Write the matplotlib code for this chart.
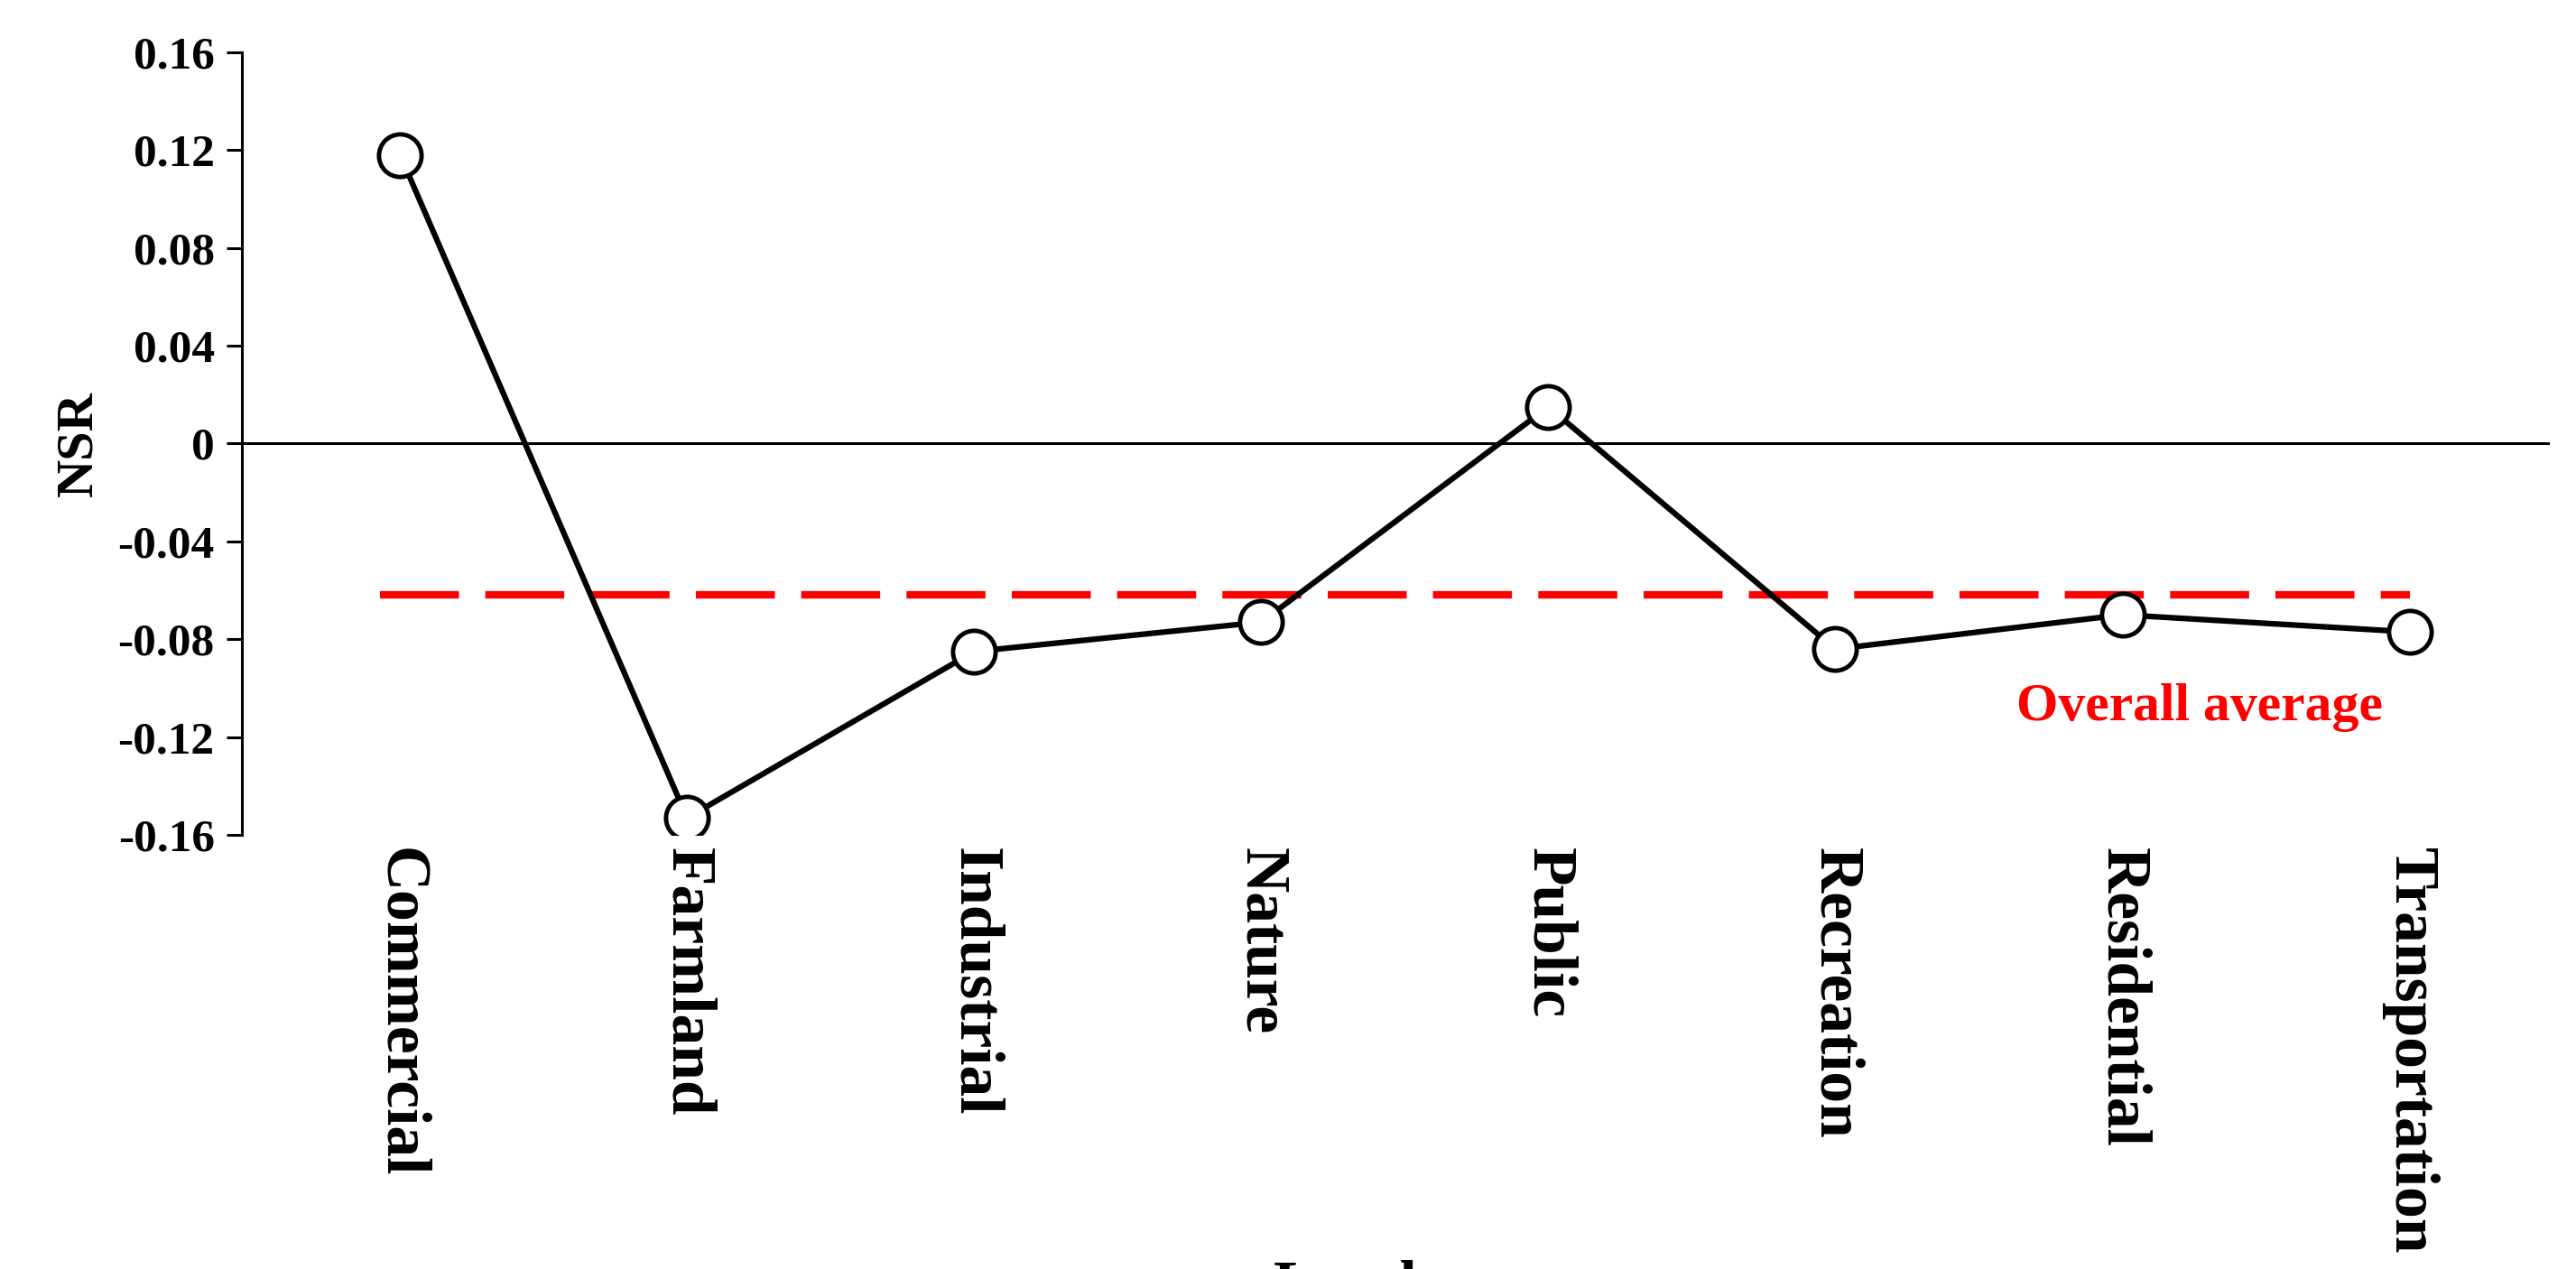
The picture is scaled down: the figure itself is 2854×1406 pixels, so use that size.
import matplotlib.pyplot as plt

land_use = ["Commercial", "Farmland", "Industrial", "Nature", "Public",
            "Recreation", "Residential", "Transportation"]
nsr = [0.118, -0.153, -0.085, -0.073, 0.015, -0.084, -0.070, -0.077]
overall_average = -0.062
y_ticks = [0.16, 0.12, 0.08, 0.04, 0, -0.04, -0.08, -0.12, -0.16]
y_tick_labels = ["0.16", "0.12", "0.08", "0.04", "0", "-0.04", "-0.08", "-0.12", "-0.16"]

plt.rcParams["font.family"] = ["Liberation Serif", "DejaVu Serif"]
plt.rcParams["font.weight"] = "bold"

fig = plt.figure(figsize=(28.54, 14.06), dpi=100)
ax = fig.add_axes([0.094, 0.342, 0.896, 0.617])

x = list(range(len(land_use)))
ax.axhline(0, color="black", lw=2.2, zorder=1)
ax.plot([-0.07, 7.0], [overall_average] * 2, color="#ff0000", lw=6,
        dashes=(10.5, 3.5), zorder=2)
ax.plot(x, nsr, color="black", lw=4.5, marker="o", markersize=34,
        markerfacecolor="white", markeredgecolor="black", markeredgewidth=3.5, zorder=3)
ax.text(6.27, -0.108, "Overall average", color="#ff0000", fontsize=43,
        fontweight="bold", ha="center", va="center")

ax.set_xlim(-0.55, 7.49)
ax.set_ylim(-0.16, 0.16)
ax.set_yticks(y_ticks)
ax.set_yticklabels(y_tick_labels, fontsize=37, fontweight="bold")
ax.set_xticks(x)
ax.set_xticklabels(land_use, rotation=-90, fontsize=50, fontweight="bold", va="top")
ax.tick_params(axis="x", length=0, pad=10)
ax.tick_params(axis="y", length=12, width=2.2, direction="out", pad=10)
for s in ["top", "right", "bottom"]:
    ax.spines[s].set_visible(False)
ax.spines["left"].set_linewidth(2.2)
ax.set_ylabel("NSR", fontsize=42, fontweight="bold", labelpad=12)
ax.set_xlabel("Land use", fontsize=50, fontweight="bold", labelpad=4)

fig.savefig("out.png", dpi=100)
